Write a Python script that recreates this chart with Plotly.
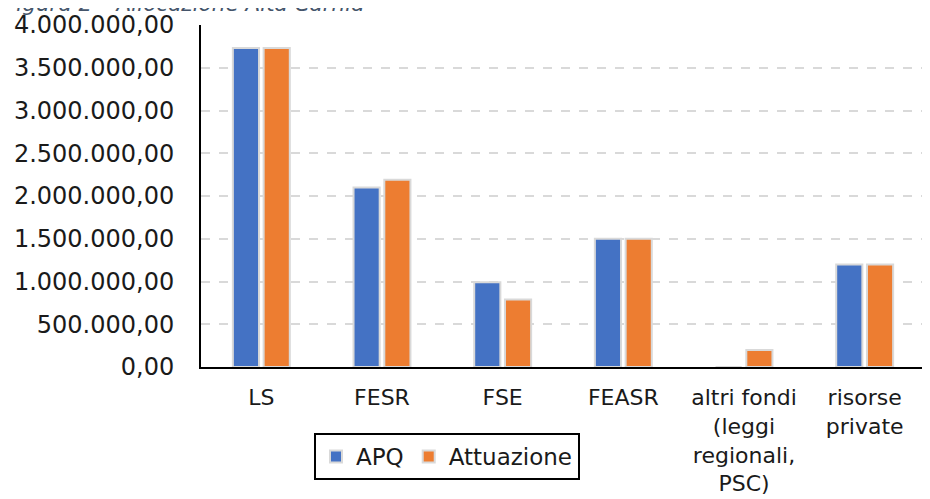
import plotly.graph_objects as go

categories = ["LS", "FESR", "FSE", "FEASR", "altri fondi<br>(leggi<br>regionali,<br>PSC)", "risorse<br>private"]
apq = [3730000, 2100000, 990000, 1500000, 0, 1200000]
attuazione = [3730000, 2190000, 790000, 1500000, 200000, 1200000]
tick_vals = [0, 500000, 1000000, 1500000, 2000000, 2500000, 3000000, 3500000, 4000000]

W, H = 930, 499
OFF = 8  # page body margin offset
ml, mt = 201 - OFF, 25 - OFF
plot_right, plot_bottom = 925 - OFF, 367 - OFF
mr, mb = W - plot_right, H - plot_bottom
pw = W - ml - mr
ph = H - mt - mb

font_family = "DejaVu Sans, Verdana, sans-serif"

fig = go.Figure()
fig.add_trace(go.Bar(name="APQ", x=categories, y=apq,
                     marker=dict(color="#4472C4", line=dict(color="#D9D9D9", width=2))))
fig.add_trace(go.Bar(name="Attuazione", x=categories, y=attuazione,
                     marker=dict(color="#ED7D31", line=dict(color="#D9D9D9", width=2))))

fig.update_layout(
    width=W, height=H,
    margin=dict(l=ml, r=mr, t=mt, b=mb, autoexpand=False),
    paper_bgcolor="white", plot_bgcolor="white",
    separators=",.",
    barmode="group", bargap=0.49, bargroupgap=0.15,
    font=dict(family=font_family, size=22, color="#1a1a1a"),
    showlegend=True,
    legend=dict(orientation="h", x=(314 - OFF - ml) / pw, xanchor="left",
                y=(plot_bottom - (433 - OFF)) / ph, yanchor="top",
                bordercolor="black", borderwidth=2,
                font=dict(size=23), itemwidth=30, tracegroupgap=0),
    xaxis=dict(showline=True, linecolor="black", linewidth=2, ticks="",
               showgrid=False, tickfont=dict(size=22), automargin=False,
               ticklabelstandoff=10),
    yaxis=dict(range=[0, 4000000], tickvals=tick_vals, tickformat=",.2f",
               showline=True, linecolor="black", linewidth=2,
               showgrid=True, gridcolor="#D9D9D9", gridwidth=2, griddash="dash",
               zeroline=False, ticks="", ticklabelstandoff=20, automargin=False,
               tickfont=dict(size=24)),
)

fig.add_annotation(text="Figura 2 – Allocazione Alta Carnia", xref="paper", yref="paper",
                   x=(2 - OFF - ml) / pw, xanchor="left", y=1 + (mt - 10) / ph,
                   yanchor="bottom", showarrow=False,
                   font=dict(family=font_family, size=21.5, color="#44546A", style="italic"))

fig.write_html("out.html")
